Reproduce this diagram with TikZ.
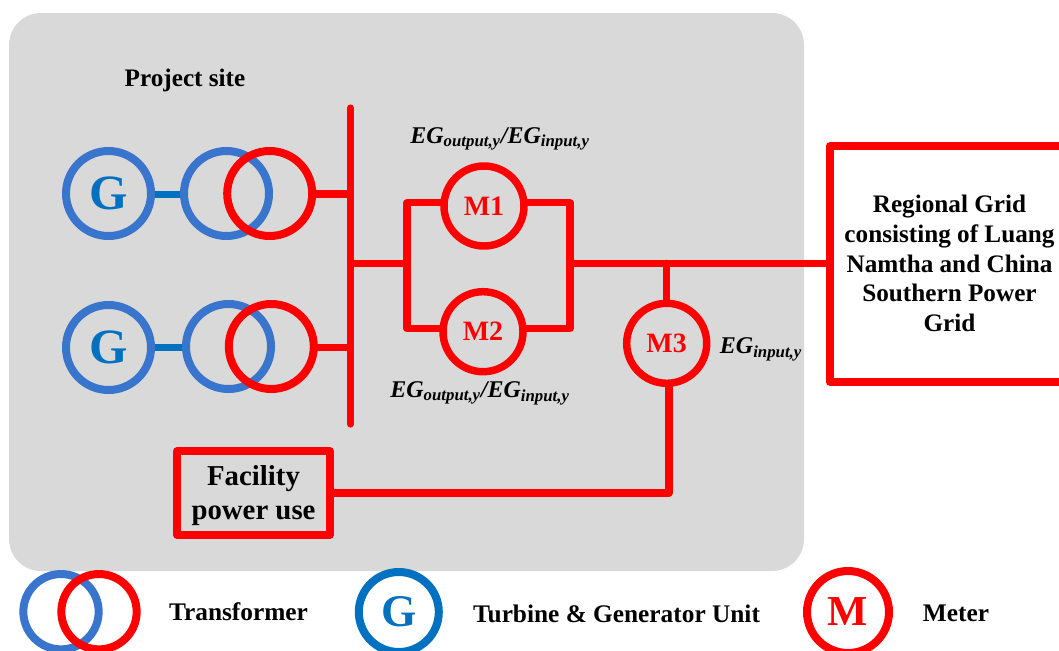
\documentclass[tikz,border=0pt]{standalone}
\usepackage{fontspec}
\setmainfont{Liberation Serif}
\definecolor{panelgray}{RGB}{217,217,217}
\definecolor{wirered}{RGB}{255,0,0}
\definecolor{genblue}{RGB}{58,117,205}
\definecolor{gblue}{RGB}{0,112,192}
\tikzset{x=0.75pt,y=-0.75pt,
 redwire/.style={draw=wirered,line width=5.4pt,line cap=round,line join=round},
 bluewire/.style={draw=gblue,line width=5.2pt},
 redring/.style={circle,draw=wirered,line width=6pt,inner sep=0pt,minimum size=63.75pt},
 bluering/.style={circle,draw=genblue,line width=6pt,inner sep=0pt,minimum size=63.75pt},
 ringg/.style={bluering,text=gblue,font=\bfseries\fontsize{37}{37}\selectfont},
 meter/.style={redring,line width=5.6pt,minimum size=60pt,text=wirered,font=\bfseries\fontsize{21}{24}\selectfont},
 boxed/.style={draw=wirered,line width=5.6pt,line join=round,align=center},
 lab/.style={font=\bfseries\fontsize{18.9}{22.3}\selectfont,inner sep=0pt,align=center},
 leglab/.style={font=\bfseries\fontsize{19}{22}\selectfont,inner sep=0pt},
 eg/.style={font=\bfseries\itshape\fontsize{18}{22}\selectfont,inner sep=0pt},
}
\begin{document}
\begin{tikzpicture}
\useasboundingbox (0,0) rectangle (1059,650);
\fill[panelgray,rounded corners=24pt] (9,13) rectangle (804,571);
\node[lab] (site) at (185,80) {Project site};
\node[ringg] (g1) at (108.5,193.5) {G};
\node[bluering] (t1a) at (226.5,193.5) {};
\node[redring] (t1b) at (269.7,193.5) {};
\node[ringg] (g2) at (108.5,347.5) {G};
\node[bluering] (t2a) at (228.5,346.5) {};
\node[redring] (t2b) at (271.3,346.5) {};
\coordinate (bust) at (350.5,108);
\coordinate (busb) at (350.5,424);
\coordinate (bus1) at (350.5,194);
\coordinate (bus2) at (350.5,347.3);
\coordinate (busm) at (350.5,263.3);
\coordinate (bl1) at (180,194.7);
\coordinate (bl2) at (180,347.3);
\draw[redwire] (bust) -- (busb);
\draw[bluewire] (g1.east |- bl1) -- (t1a.west |- bl1);
\draw[bluewire] (g2.east |- bl2) -- (t2a.west |- bl2);
\draw[redwire] (t1b.east |- bus1) -- (bus1);
\draw[redwire] (t2b.east |- bus2) -- (bus2);
\node[meter] (m1) at (484,206) {M1};
\node[meter] (m2) at (483,331.7) {M2};
\node[meter] (m3) at (666.7,343.3) {M3};
\coordinate (jl) at (407,263.3);
\coordinate (jr) at (570,263.3);
\coordinate (j3) at (666.7,263.3);
\coordinate (ctl) at (407,202.7);
\coordinate (cbl) at (407,328.7);
\coordinate (ctr) at (570,202.7);
\coordinate (cbr) at (570,328.7);
\coordinate (cd) at (669,493);
\draw[redwire] (busm) -- (jl);
\draw[redwire] (m1.west |- ctl) -- (ctl) -- (cbl) -- (m2.west |- cbl);
\draw[redwire] (m1.east |- ctr) -- (ctr) -- (cbr) -- (m2.east |- cbr);
\node[boxed,minimum width=260pt,minimum height=177pt] (grid) at (1003.3,264) {};
\node[lab] (gridt) at (949.5,263.5) {Regional Grid\\consisting of Luang\\Namtha and China\\Southern Power\\Grid};
\draw[redwire] (jr) -- (jr -| grid.west);
\draw[redwire] (j3) -- (m3.north);
\node[boxed,minimum width=114.75pt,minimum height=63pt,inner sep=0pt] (fac) at (253.5,493) {};
\node[lab,font=\bfseries\fontsize{21.6}{25.5}\selectfont] (fact) at (253.5,495.5) {Facility\\power use};
\draw[redwire] (m3.south -| cd) -- (cd) -- (fac.east |- cd);
\node[eg] (e1) at (500,139) {EG\textsubscript{output,y}/EG\textsubscript{input,y}};
\node[eg] (e2) at (480,393) {EG\textsubscript{output,y}/EG\textsubscript{input,y}};
\node[eg] (e3) at (761,349) {EG\textsubscript{input,y}};
\node[bluering,minimum size=56.5pt] (la) at (61,611.7) {};
\node[redring,minimum size=56.5pt] (lb) at (99,611.7) {};
\node[leglab] (lt) at (238.5,612) {Transformer};
\node[bluering,draw=gblue,text=gblue,minimum size=60pt,font=\bfseries\fontsize{34}{36}\selectfont] (lg) at (398.8,612) {G};
\node[leglab] (ltg) at (616.5,613.5) {Turbine \& Generator Unit};
\node[redring,minimum size=61.5pt,text=wirered,font=\bfseries\fontsize{32}{36}\selectfont] (lm) at (848,612) {M};
\node[leglab] (lmt) at (956,613.5) {Meter};
\end{tikzpicture}
\end{document}
